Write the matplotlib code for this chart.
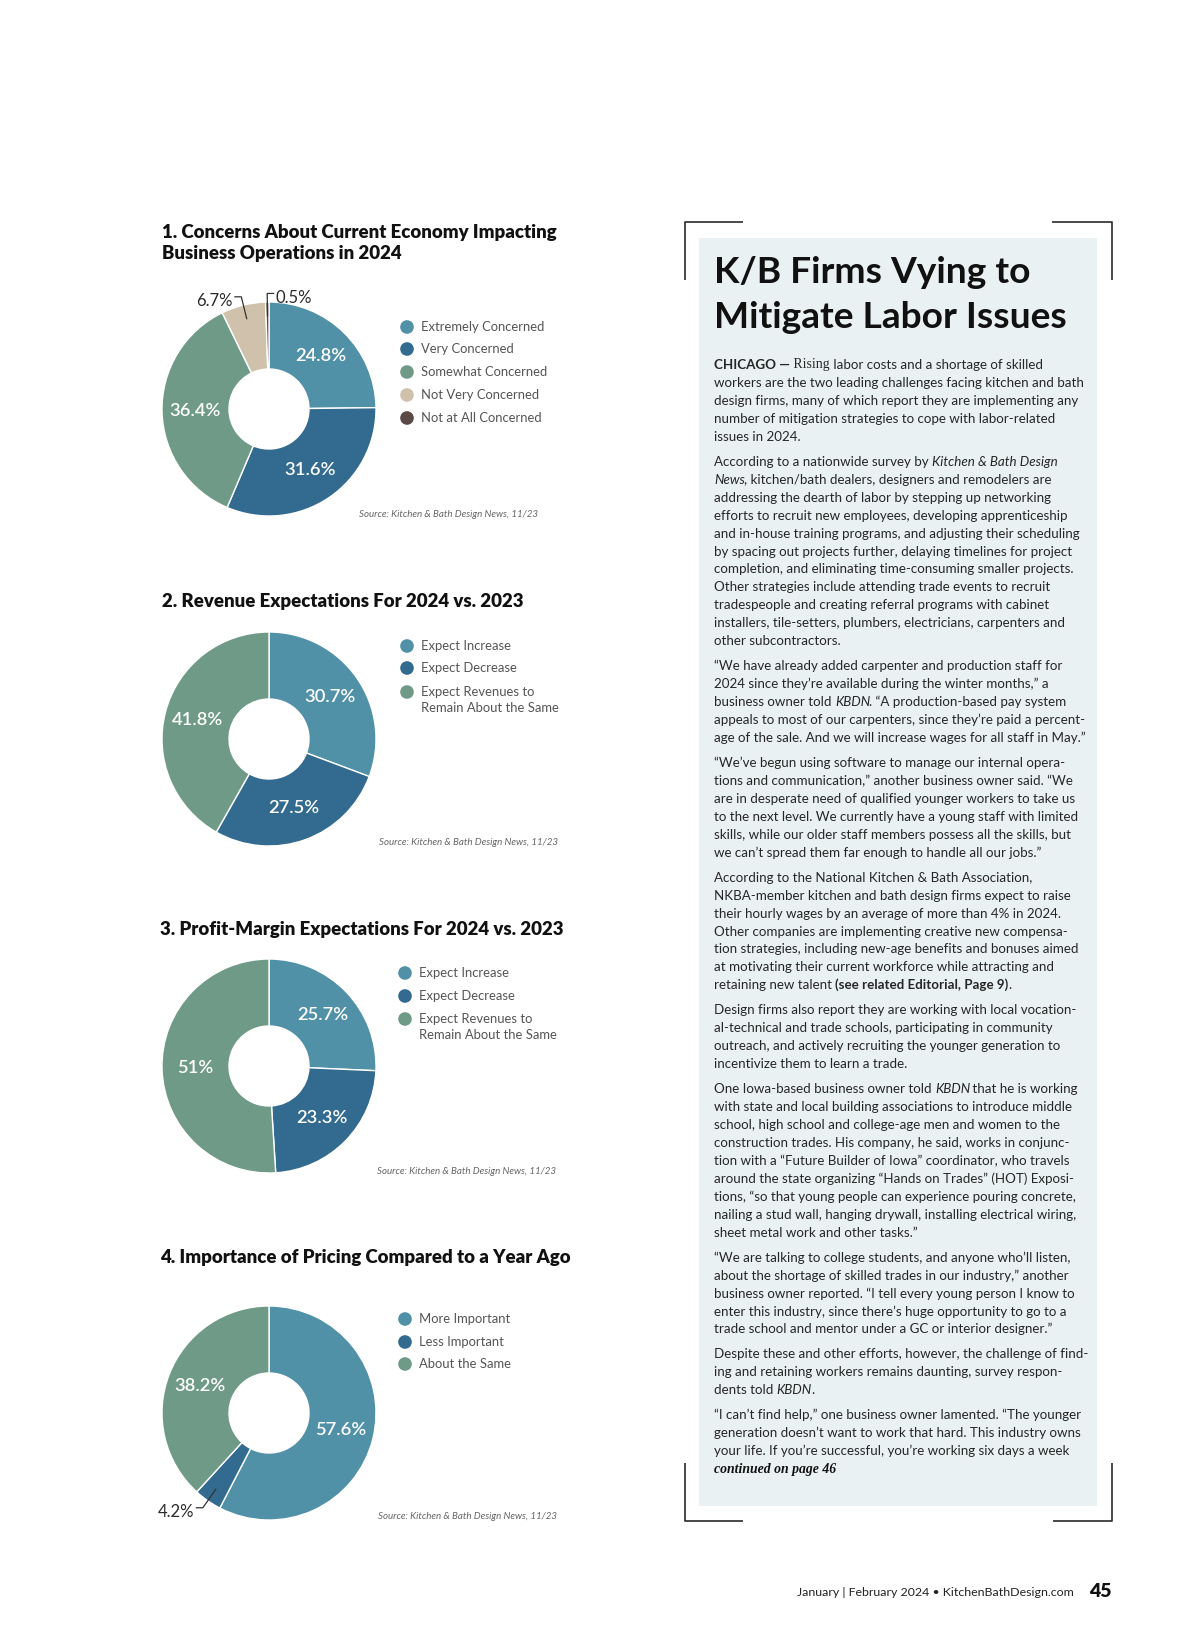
import math
import matplotlib
matplotlib.use('Agg')
import matplotlib.pyplot as plt
from matplotlib.patches import Rectangle, Circle

W, H = 1200, 1639
plt.rcParams['font.family'] = ['Lato', 'DejaVu Sans']

teal = '#5191a8'
navy = '#336a8f'
sage = '#6f9a88'
beige = '#d0c1ad'
brown = '#5a4944'

# ---- chart data ----
econ_labels = ['Extremely Concerned', 'Very Concerned', 'Somewhat Concerned',
               'Not Very Concerned', 'Not at All Concerned']
econ_values = [24.8, 31.6, 36.4, 6.7, 0.5]

revenue_labels = ['Expect Increase', 'Expect Decrease',
                  'Expect Revenues to\nRemain About the Same']
revenue_values = [30.7, 27.5, 41.8]

profit_labels = ['Expect Increase', 'Expect Decrease',
                 'Expect Revenues to\nRemain About the Same']
profit_values = [25.7, 23.3, 51.0]

pricing_labels = ['More Important', 'Less Important', 'About the Same']
pricing_values = [57.6, 4.2, 38.2]

source = 'Source: Kitchen & Bath Design News, 11/23'

charts = [
    dict(title=['1. Concerns About Current Economy Impacting', 'Business Operations in 2024'],
         tx=162, ty=238, cy=409, labels=econ_labels, values=econ_values,
         colors=[teal, navy, sage, beige, brown], outside={3: -1, 4: 1},
         lx=407, ly=[327, 349, 372, 395, 418], sy=517, sx=538),
    dict(title=['2. Revenue Expectations For 2024 vs. 2023'],
         tx=162, ty=607, cy=739, labels=revenue_labels, values=revenue_values,
         colors=[teal, navy, sage], outside={},
         lx=407, ly=[646, 668, 692], sy=845, sx=558),
    dict(title=['3. Profit-Margin Expectations For 2024 vs. 2023'],
         tx=160, ty=935, cy=1066, labels=profit_labels, values=profit_values,
         colors=[teal, navy, sage], outside={},
         lx=405, ly=[973, 996, 1019], sy=1174, sx=556),
    dict(title=['4. Importance of Pricing Compared to a Year Ago'],
         tx=160, ty=1263, cy=1413, labels=pricing_labels, values=pricing_values,
         colors=[teal, navy, sage], outside={1: -1},
         lx=405, ly=[1319, 1342, 1364], sy=1519, sx=557),
]

# ---- article text ----
heading = ['K/B Firms Vying to', 'Mitigate Labor Issues']

paragraphs = [
    [[('CHICAGO —', 'b'), (' Rising', 's'), (' labor costs and a shortage of skilled', 'r')],
     'workers are the two leading challenges facing kitchen and bath',
     'design firms, many of which report they are implementing any',
     'number of mitigation strategies to cope with labor-related',
     'issues in 2024.'],
    [[('According to a nationwide survey by ', 'r'), ('Kitchen & Bath Design', 'i')],
     [('News', 'i'), (', kitchen/bath dealers, designers and remodelers are', 'r')],
     'addressing the dearth of labor by stepping up networking',
     'efforts to recruit new employees, developing apprenticeship',
     'and in-house training programs, and adjusting their scheduling',
     'by spacing out projects further, delaying timelines for project',
     'completion, and eliminating time-consuming smaller projects.',
     'Other strategies include attending trade events to recruit',
     'tradespeople and creating referral programs with cabinet',
     'installers, tile-setters, plumbers, electricians, carpenters and',
     'other subcontractors.'],
    ['\u201cWe have already added carpenter and production staff for',
     '2024 since they\u2019re available during the winter months,\u201d a',
     [('business owner told ', 'r'), ('KBDN', 'i'), ('. \u201cA production-based pay system', 'r')],
     'appeals to most of our carpenters, since they\u2019re paid a percent-',
     'age of the sale. And we will increase wages for all staff in May.\u201d'],
    ['\u201cWe\u2019ve begun using software to manage our internal opera-',
     'tions and communication,\u201d another business owner said. \u201cWe',
     'are in desperate need of qualified younger workers to take us',
     'to the next level. We currently have a young staff with limited',
     'skills, while our older staff members possess all the skills, but',
     'we can\u2019t spread them far enough to handle all our jobs.\u201d'],
    ['According to the National Kitchen & Bath Association,',
     'NKBA-member kitchen and bath design firms expect to raise',
     'their hourly wages by an average of more than 4% in 2024.',
     'Other companies are implementing creative new compensa-',
     'tion strategies, including new-age benefits and bonuses aimed',
     'at motivating their current workforce while attracting and',
     [('retaining new talent ', 'r'), ('(see related Editorial, Page 9)', 'b'), ('.', 'r')]],
    ['Design firms also report they are working with local vocation-',
     'al-technical and trade schools, participating in community',
     'outreach, and actively recruiting the younger generation to',
     'incentivize them to learn a trade.'],
    [[('One Iowa-based business owner told ', 'r'), ('KBDN', 'i'), (' that he is working', 'r')],
     'with state and local building associations to introduce middle',
     'school, high school and college-age men and women to the',
     'construction trades. His company, he said, works in conjunc-',
     'tion with a \u201cFuture Builder of Iowa\u201d coordinator, who travels',
     'around the state organizing \u201cHands on Trades\u201d (HOT) Exposi-',
     'tions, \u201cso that young people can experience pouring concrete,',
     'nailing a stud wall, hanging drywall, installing electrical wiring,',
     'sheet metal work and other tasks.\u201d'],
    ['\u201cWe are talking to college students, and anyone who\u2019ll listen,',
     'about the shortage of skilled trades in our industry,\u201d another',
     'business owner reported. \u201cI tell every young person I know to',
     'enter this industry, since there\u2019s huge opportunity to go to a',
     'trade school and mentor under a GC or interior designer.\u201d'],
    ['Despite these and other efforts, however, the challenge of find-',
     'ing and retaining workers remains daunting, survey respon-',
     [('dents told ', 'r'), ('KBDN', 'i'), ('.', 'r')]],
    ['\u201cI can\u2019t find help,\u201d one business owner lamented. \u201cThe younger',
     'generation doesn\u2019t want to work that hard. This industry owns',
     'your life. If you\u2019re successful, you\u2019re working six days a week',
     [('continued on page 46', 'c')]],
]

body_color = '#262626'
fs = 9.62
styles = {
    'r': dict(fontsize=fs, color=body_color),
    'b': dict(fontsize=fs, color=body_color, fontweight='bold'),
    'i': dict(fontsize=fs, color=body_color, fontstyle='italic'),
    's': dict(fontsize=fs + 0.3, color=body_color, family=['Liberation Serif']),
    'c': dict(fontsize=fs + 0.3, color='#111111', family=['Liberation Serif'],
              fontweight='bold', fontstyle='italic'),
}

fig = plt.figure(figsize=(W / 100, H / 100), dpi=100)
fig.patch.set_facecolor('white')
bg = fig.add_axes([0, 0, 1, 1])
bg.set_xlim(0, W)
bg.set_ylim(H, 0)
bg.axis('off')

# ---- donut charts ----
cx, R = 269, 107
hole = 40 / 107
for ch in charts:
    cy = ch['cy']
    ax = fig.add_axes([(cx - R) / W, 1 - (cy + R) / H, 2 * R / W, 2 * R / H])
    wedges, _ = ax.pie(ch['values'], colors=ch['colors'], startangle=90,
                       counterclock=False,
                       wedgeprops=dict(width=1 - hole, edgecolor='white', linewidth=1.0))
    ax.set_xlim(-1, 1)
    ax.set_ylim(-1, 1)
    ax.axis('off')
    for i, (w, v) in enumerate(zip(wedges, ch['values'])):
        th = math.radians((w.theta1 + w.theta2) / 2)
        txt = f'{v:g}%'
        if i in ch['outside']:
            side = ch['outside'][i]
            x0, y0 = 0.87 * math.cos(th), 0.87 * math.sin(th)
            x1, y1 = 1.08 * math.cos(th), 1.08 * math.sin(th)
            x2 = x1 + 0.06 * side
            ax.plot([x0, x1, x2], [y0, y1, y1], color='#333333', lw=0.9,
                    clip_on=False, solid_joinstyle='miter')
            ax.text(x2 + 0.02 * side, y1 - 0.04, txt, ha='left' if side > 0 else 'right',
                    va='center', fontsize=12, color='#2b2b2b', clip_on=False)
        else:
            ax.text(0.69 * math.cos(th), 0.69 * math.sin(th), txt, ha='center',
                    va='center', fontsize=13.2, color='white', fontweight='semibold')

    for k, line in enumerate(ch['title']):
        bg.text(ch['tx'], ch['ty'] + k * 21.5, line, fontsize=13.4, fontweight='heavy',
                color='#111111', va='baseline', ha='left')
    for lab, col, y in zip(ch['labels'], ch['colors'], ch['ly']):
        bg.add_patch(Circle((ch['lx'], y), 6.8, color=col, lw=0))
        for j, part in enumerate(lab.split('\n')):
            bg.text(ch['lx'] + 14, y + 4 + j * 15.6, part, fontsize=9.4,
                    color='#555555', va='baseline', ha='left')
    bg.text(ch['sx'], ch['sy'], source, fontsize=7, color='#666666',
            fontstyle='italic', ha='right', va='baseline')

# ---- article box ----
bg.add_patch(Rectangle((699, 238), 398, 1268, color='#eaf1f3', lw=0, zorder=0))
frame = dict(color='#2a2a2a', lw=1.2, solid_capstyle='butt')
bg.plot([743, 685, 685], [222, 222, 280], **frame)
bg.plot([1052, 1112, 1112], [222, 222, 280], **frame)
bg.plot([685, 685, 743], [1463, 1521, 1521], **frame)
bg.plot([1112, 1112, 1053], [1463, 1521, 1521], **frame)

for k, line in enumerate(heading):
    bg.text(714, 283 + k * 45, line, fontsize=26.7, fontweight='bold',
            color='#111111', va='baseline', ha='left')


def rich_line(x, y, segs):
    prev = None
    prev_style = None
    for s, st in segs:
        kw = styles[st]
        if prev is None:
            prev = bg.text(x, y, s, va='baseline', ha='left', **kw)
        else:
            # italic boxes include a little overhang, pull following text back
            dx = -0.6 if prev_style == 'i' else 0
            prev = bg.annotate(s, xy=(1, 0), xycoords=prev, xytext=(dx, 0),
                               textcoords='offset points', va='bottom', ha='left', **kw)
        prev_style = st


y = 365
for para in paragraphs:
    for line in para:
        segs = [(line, 'r')] if isinstance(line, str) else line
        rich_line(714, y + 4, segs)
        y += 17.95
    y += 7

# ---- footer ----
bg.text(1074, 1596, 'January | February 2024 \u2022 KitchenBathDesign.com', fontsize=8.9,
        color='#222222', ha='right', va='baseline')
bg.text(1112, 1597, '45', fontsize=14, fontweight='heavy', color='#111111',
        ha='right', va='baseline')

fig.savefig('out.png', dpi=100, facecolor='white')
